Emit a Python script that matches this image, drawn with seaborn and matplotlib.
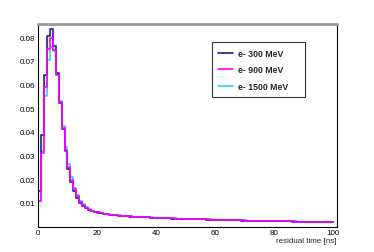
import numpy as np
import pandas as pd
import matplotlib
matplotlib.use("Agg")
import matplotlib.pyplot as plt
from matplotlib.lines import Line2D
import seaborn as sns

sns.set_style("white")
plt.rcParams['font.family'] = ['Liberation Sans', 'DejaVu Sans']

bin_edges = list(range(0, 101))
x_ticks = [0, 20, 40, 60, 80, 100]
y_ticks = [0.01, 0.02, 0.03, 0.04, 0.05, 0.06, 0.07, 0.08]
labels = ["e- 300 MeV", "e- 900 MeV", "e- 1500 MeV"]
colors = ["#1c1c96", "#ff00ff", "#33ccff"]

e300 = [0.0152, 0.0387, 0.0640, 0.0803, 0.0835, 0.0764, 0.0649, 0.0522, 0.0412, 0.0318,
        0.0243, 0.0190, 0.0150, 0.0123, 0.0102, 0.0088, 0.0078, 0.0071, 0.0066, 0.0062,
        0.0059, 0.0056, 0.0054, 0.0052, 0.0050, 0.0049, 0.0048, 0.0047, 0.0046, 0.0045,
        0.0044, 0.0043, 0.0042, 0.0042, 0.0041, 0.0040, 0.0039, 0.0039, 0.0038, 0.0037,
        0.0037, 0.0036, 0.0036, 0.0035, 0.0035, 0.0034, 0.0034, 0.0034, 0.0033, 0.0033,
        0.0033, 0.0032, 0.0032, 0.0032, 0.0031, 0.0031, 0.0031, 0.0030, 0.0030, 0.0030,
        0.0030, 0.0029, 0.0029, 0.0028, 0.0028, 0.0028, 0.0027, 0.0027, 0.0027, 0.0026,
        0.0026, 0.0026, 0.0025, 0.0025, 0.0025, 0.0024, 0.0024, 0.0024, 0.0023, 0.0023,
        0.0023, 0.0023, 0.0022, 0.0022, 0.0022, 0.0022, 0.0021, 0.0021, 0.0021, 0.0021,
        0.0020, 0.0020, 0.0020, 0.0020, 0.0020, 0.0019, 0.0019, 0.0019, 0.0019, 0.0019]

e900 = [0.0110, 0.0310, 0.0588, 0.0750, 0.0795, 0.0745, 0.0640, 0.0525, 0.0415, 0.0325,
        0.0252, 0.0198, 0.0157, 0.0128, 0.0106, 0.0091, 0.0080, 0.0072, 0.0067, 0.0063,
        0.0060, 0.0057, 0.0055, 0.0053, 0.0051, 0.0050, 0.0048, 0.0047, 0.0046, 0.0045,
        0.0044, 0.0044, 0.0043, 0.0042, 0.0041, 0.0040, 0.0040, 0.0039, 0.0038, 0.0038,
        0.0037, 0.0037, 0.0036, 0.0036, 0.0035, 0.0035, 0.0034, 0.0034, 0.0034, 0.0033,
        0.0033, 0.0033, 0.0032, 0.0032, 0.0032, 0.0031, 0.0031, 0.0031, 0.0030, 0.0030,
        0.0030, 0.0029, 0.0029, 0.0029, 0.0028, 0.0028, 0.0028, 0.0027, 0.0027, 0.0027,
        0.0026, 0.0026, 0.0026, 0.0025, 0.0025, 0.0025, 0.0024, 0.0024, 0.0024, 0.0023,
        0.0023, 0.0023, 0.0023, 0.0022, 0.0022, 0.0022, 0.0022, 0.0021, 0.0021, 0.0021,
        0.0021, 0.0020, 0.0020, 0.0020, 0.0020, 0.0020, 0.0019, 0.0019, 0.0019, 0.0019]

e1500 = [0.0110, 0.0318, 0.0550, 0.0705, 0.0760, 0.0740, 0.0645, 0.0532, 0.0425, 0.0338,
         0.0265, 0.0208, 0.0165, 0.0134, 0.0110, 0.0094, 0.0082, 0.0074, 0.0068, 0.0064,
         0.0061, 0.0058, 0.0055, 0.0053, 0.0051, 0.0050, 0.0049, 0.0048, 0.0047, 0.0046,
         0.0045, 0.0044, 0.0043, 0.0042, 0.0042, 0.0041, 0.0040, 0.0040, 0.0039, 0.0038,
         0.0038, 0.0037, 0.0037, 0.0036, 0.0036, 0.0035, 0.0035, 0.0034, 0.0034, 0.0034,
         0.0033, 0.0033, 0.0033, 0.0032, 0.0032, 0.0032, 0.0031, 0.0031, 0.0031, 0.0030,
         0.0030, 0.0030, 0.0029, 0.0029, 0.0029, 0.0028, 0.0028, 0.0028, 0.0027, 0.0027,
         0.0027, 0.0026, 0.0026, 0.0026, 0.0025, 0.0025, 0.0025, 0.0024, 0.0024, 0.0024,
         0.0023, 0.0023, 0.0023, 0.0023, 0.0022, 0.0022, 0.0022, 0.0022, 0.0021, 0.0021,
         0.0021, 0.0021, 0.0020, 0.0020, 0.0020, 0.0020, 0.0020, 0.0019, 0.0019, 0.0019]

series = [e300, e900, e1500]
centers = [e + 0.5 for e in bin_edges[:-1]]

fig = plt.figure(figsize=(3.74, 2.53), dpi=100)
ax = fig.add_axes([38 / 374, 1 - 227.7 / 253, 299 / 374, 202.7 / 253])

# draw order: cyan, navy, magenta
for idx in [2, 0, 1]:
    df = pd.DataFrame({"t": centers, "w": series[idx]})
    sns.histplot(data=df, x="t", weights="w", bins=bin_edges, element="step",
                 fill=False, color=colors[idx], linewidth=1.2, ax=ax)

ax.set_xlim(0, 101.4)
ax.set_ylim(0, 0.0855)
ax.set_xticks(x_ticks)
ax.set_xticklabels([str(v) for v in x_ticks])
ax.set_yticks(y_ticks)
ax.set_yticklabels([f"{v:g}" for v in y_ticks])
ax.set_xticks(np.arange(0, 101, 5), minor=True)
ax.set_yticks(np.arange(0, 0.0855, 0.002), minor=True)
ax.tick_params(axis="both", which="major", direction="in", length=5.5, width=0.6,
               labelsize=5.8, colors="#333333", labelcolor="black", pad=2)
ax.tick_params(axis="both", which="minor", direction="in", length=3, width=0.6,
               colors="#333333")
ax.tick_params(axis="x", which="major", length=4.5)
ax.tick_params(axis="x", which="minor", length=2.5)
ax.set_xlabel("")
ax.set_ylabel("")

for s in ["left", "bottom", "right"]:
    ax.spines[s].set_color("black")
    ax.spines[s].set_linewidth(0.8)
ax.spines["top"].set_color("#999999")
ax.spines["top"].set_linewidth(2.0)

fig.text(336.5 / 374, 1 - 242 / 253, "residual time [ns]", ha="right", va="center",
         fontsize=5.8)

handles = [Line2D([0], [0], color=c, lw=1.2) for c in colors]
leg = ax.legend(handles, labels, loc="upper left",
                bbox_to_anchor=(211.7 / 374, 1 - 102.7 / 253, 93.3 / 374, 59.4 / 253),
                bbox_transform=fig.transFigure, mode="expand",
                prop={"weight": "bold", "size": 6.3}, frameon=True, fancybox=False,
                handlelength=1.7, handletextpad=0.5, labelspacing=0.85,
                borderpad=0.75, borderaxespad=0)
leg.get_frame().set_edgecolor("black")
leg.get_frame().set_linewidth(0.8)

fig.savefig("out.png", dpi=100)
